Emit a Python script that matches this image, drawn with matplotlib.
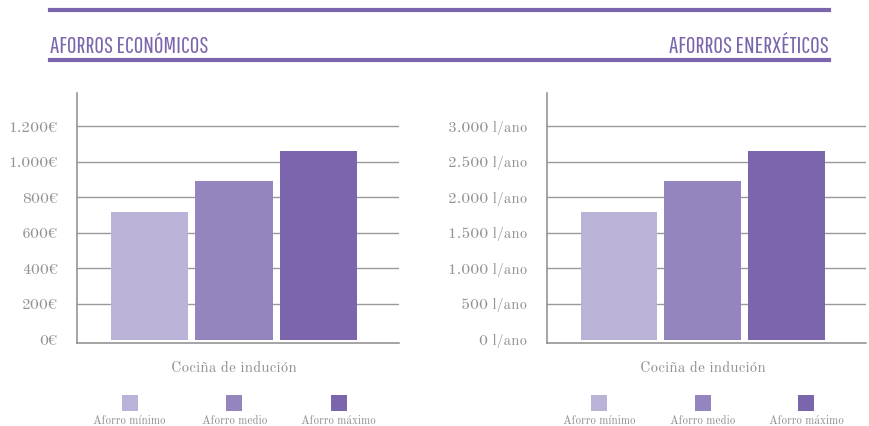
import matplotlib
matplotlib.use("Agg")
import matplotlib.pyplot as plt
from matplotlib import font_manager
from matplotlib.lines import Line2D
from matplotlib.transforms import blended_transform_factory

# data
category = "Cociña de indución"
series = ["Aforro mínimo", "Aforro medio", "Aforro máximo"]
aforro_euros = [715, 890, 1060]
aforro_litros = [1790, 2225, 2650]
ticks_euros = [0, 200, 400, 600, 800, 1000, 1200]
ticks_litros = [0, 500, 1000, 1500, 2000, 2500, 3000]

colors = ["#bbb2d7", "#9585be", "#7b66ad"]
purple = "#7b66ad"
gray = "#939393"

names = {f.name for f in font_manager.fontManager.ttflist}


def pick(cands, default):
    for c in cands:
        if c in names:
            return c
    return default


title_font = pick(["Pathway Gothic One", "League Gothic", "Oswald", "Antonio",
                   "Fjalla One", "Roboto Condensed"], "DejaVu Sans")
serif = pick(["Old Standard TT", "Libre Baskerville", "PT Serif"], "DejaVu Serif")


def miles(v):
    return "{:,}".format(v).replace(",", ".")


fig = plt.figure(figsize=(8.69, 4.26), dpi=100)
r = fig.canvas.get_renderer()


def fit(txt, size, target):
    # scale a font size so that txt spans target pixels
    t = fig.text(0, 0, txt, family=serif, fontsize=size)
    w = t.get_window_extent(r).width
    t.remove()
    return size * target / w


tick_size = fit("1.200€", 10, 49)
cat_size = fit(category, 9, 126)
leg_size = fit("Aforro mínimo", 7, 73)


def panel(ax, vals, ticks, suffix, top):
    x = [-1, 0, 1]
    ax.bar(x, vals, width=0.917, color=colors, zorder=3)
    ax.set_xlim(-1.86, 1.95)
    ax.set_ylim(-top * 0.0162, top * 1.155)
    ax.set_yticks(ticks)
    ax.set_yticklabels([miles(t) + suffix for t in ticks])
    ax.set_xticks([])
    ax.tick_params(axis="y", length=0, pad=14, labelsize=tick_size, labelcolor=gray)
    for lbl in ax.get_yticklabels():
        lbl.set_family(serif)
    for t in ticks[1:]:
        ax.axhline(t, color="#9a9a9a", lw=1, zorder=1)
    for s in ["top", "right"]:
        ax.spines[s].set_visible(False)
    for s in ["left", "bottom"]:
        ax.spines[s].set_color("#8c8c8c")
        ax.spines[s].set_linewidth(1.1)

    tr = blended_transform_factory(ax.transData, fig.transFigure)
    ax.text(0, 1 - 368 / 426, category, transform=tr, ha="center", va="center",
            family=serif, fontsize=cat_size, color=gray)
    lx = [-1.238, 0, 1.238]
    for i in range(3):
        ax.scatter([lx[i]], [1 - 402.5 / 426], s=117, marker="s", color=colors[i],
                   transform=tr, clip_on=False, linewidths=0)
        ax.text(lx[i], 1 - 420.5 / 426, series[i], transform=tr, ha="center",
                va="center", family=serif, fontsize=leg_size, color=gray)


ax1 = fig.add_axes([77 / 869, 1 - 343 / 426, 322 / 869, 250 / 426])
ax2 = fig.add_axes([547 / 869, 1 - 343 / 426, 319 / 869, 250 / 426])
panel(ax1, aforro_euros, ticks_euros, "€", 1200)
panel(ax2, aforro_litros, ticks_litros, " l/ano", 3000)

# header rules and titles
for yy in [10, 60]:
    fig.add_artist(Line2D([50 / 869, 829 / 869], [1 - yy / 426] * 2,
                          color=purple, lw=3.0))
t1 = fig.text(50 / 869, 1 - 53 / 426, "AFORROS ECONÓMICOS", ha="left", va="baseline",
              family=title_font, fontsize=16, color=purple)
t2 = fig.text(829 / 869, 1 - 53 / 426, "AFORROS ENERXÉTICOS", ha="right", va="baseline",
              family=title_font, fontsize=16, color=purple)

# fit the title width to 159 px
w = t1.get_window_extent(r).width
for t in (t1, t2):
    t.set_fontsize(16 * 159 / w)

fig.savefig("out.png", dpi=100)
